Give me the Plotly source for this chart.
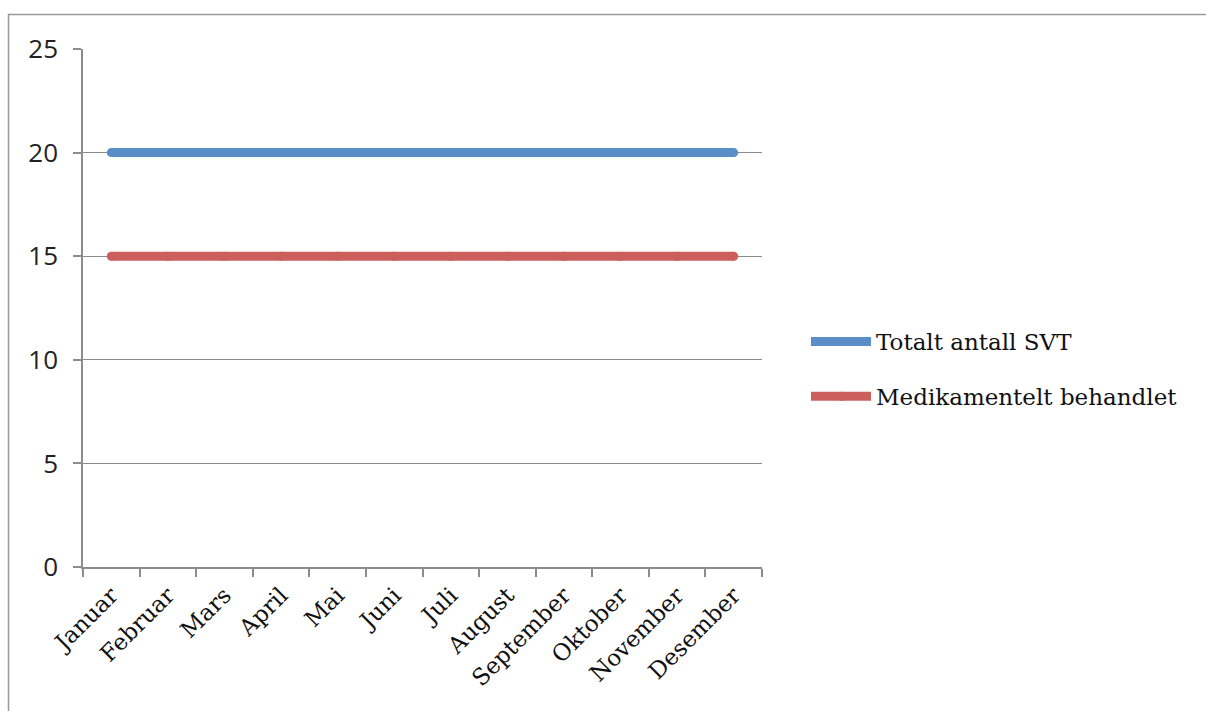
import plotly.graph_objects as go

months = ["Januar", "Februar", "Mars", "April", "Mai", "Juni", "Juli",
          "August", "September", "Oktober", "November", "Desember"]
totalt_svt = [20, 20, 20, 20, 20, 20, 20, 20, 20, 20, 20, 20]
medikamentelt = [15, 15, 15, 15, 15, 15, 15, 15, 15, 15, 15, 15]

BLUE = "#5a8ec8"
RED = "#cc5f5b"
GRID = "#8c8c8c"

fig = go.Figure()
fig.add_trace(go.Scatter(x=months, y=totalt_svt, name="Totalt antall SVT",
                         mode="lines+markers", legendgroup="a",
                         line=dict(color=BLUE, width=9),
                         marker=dict(color=BLUE, size=9)))
fig.add_trace(go.Scatter(x=months, y=medikamentelt, name="Medikamentelt behandlet",
                         mode="lines+markers", legendgroup="b",
                         line=dict(color=RED, width=9),
                         marker=dict(color=RED, size=9)))

L, R, T, B = 83, 762, 49, 567
W, H = 1206, 711
pw, ph = R - L, B - T

def px(x):
    return (x - L) / pw

def py(y):
    return (B - y) / ph

fig.update_layout(
    width=W, height=H,
    margin=dict(l=L, r=W - R, t=T, b=H - B, pad=0),
    paper_bgcolor="white", plot_bgcolor="white",
    showlegend=True,
    legend=dict(x=px(806), y=py(369), xanchor="left", yanchor="middle",
                font=dict(family="DejaVu Serif", size=23, color="#111"),
                itemwidth=60, tracegroupgap=22, traceorder="grouped",
                bgcolor="rgba(0,0,0,0)"),
    xaxis=dict(type="category", range=[-0.5, 11.5], showgrid=False,
               showline=True, linecolor=GRID, linewidth=1.5,
               ticks="outside", tickson="boundaries", ticklen=8,
               tickcolor=GRID, tickwidth=1.5, tickangle=-45,
               ticklabelstandoff=4,
               tickfont=dict(family="DejaVu Serif", size=23, color="#111")),
    yaxis=dict(range=[0, 25], dtick=5, tick0=0, showgrid=True,
               gridcolor=GRID, gridwidth=1, showline=True, linecolor=GRID,
               linewidth=1.5, ticks="outside", ticklen=8, tickcolor=GRID,
               tickwidth=1.5, zeroline=False, ticklabelstandoff=10,
               tickfont=dict(family="Open Sans", size=26, color="#222")),
    shapes=[dict(type="rect", xref="paper", yref="paper",
                 x0=px(8.5), x1=px(1300), y0=py(800), y1=py(14.5),
                 line=dict(color="#999", width=1.5), layer="below")],
)

fig.write_html("out.html")
